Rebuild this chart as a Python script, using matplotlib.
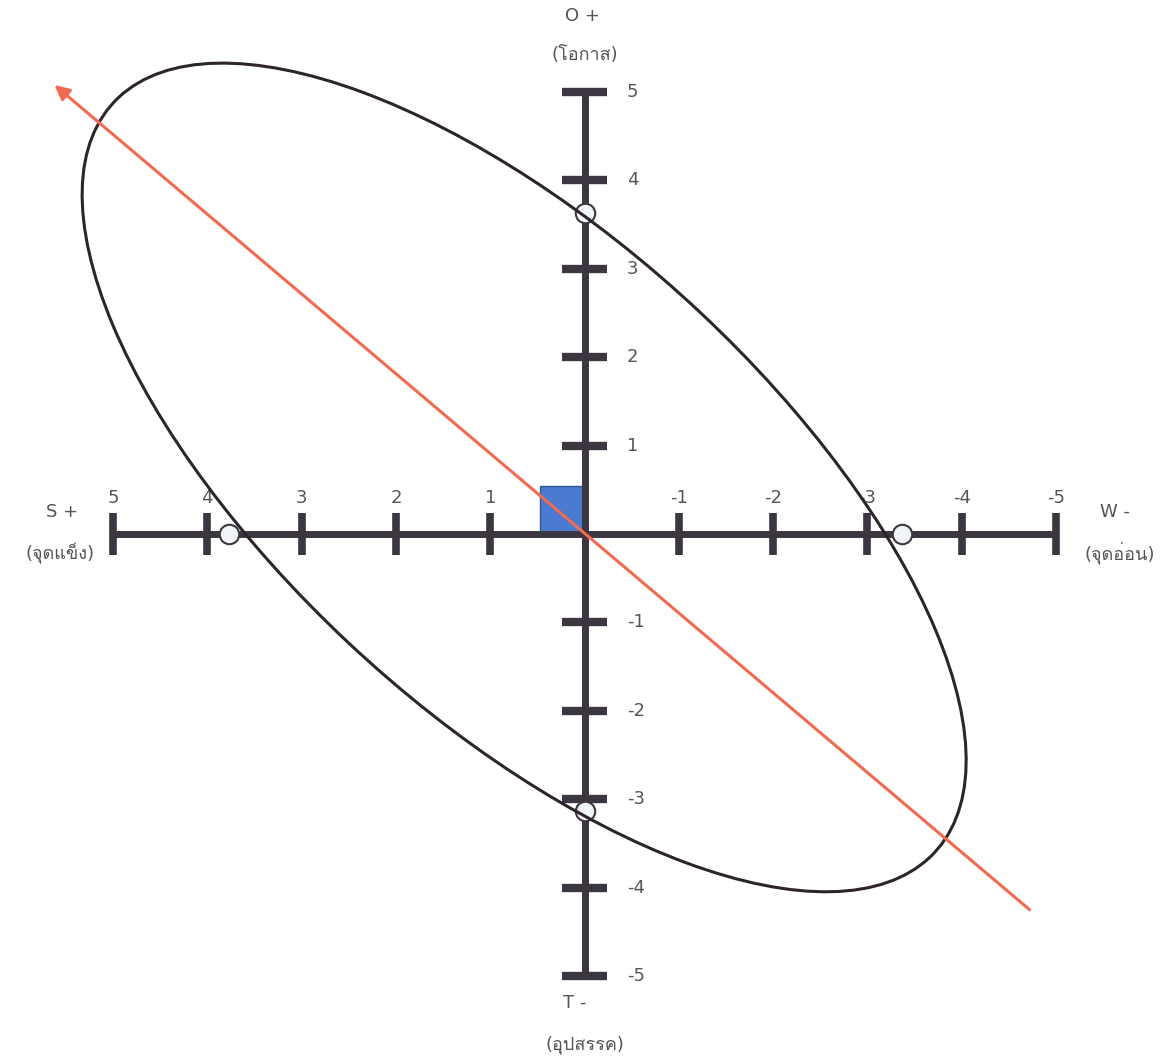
import matplotlib
matplotlib.use("Agg")
import matplotlib.pyplot as plt
from matplotlib import font_manager
from matplotlib.ft2font import FT2Font
from matplotlib.patches import Ellipse, Rectangle

# axis ticks (x axis reversed: S on the left, W on the right)
x_ticks = [5, 4, 3, 2, 1, -1, -2, -3, -4, -5]
y_ticks = [5, 4, 3, 2, 1, -1, -2, -3, -4, -5]

# ellipse: centre, full width/height, rotation
ell_center = (0.64, 0.64)
ell_width = 12.16
ell_height = 5.28
ell_angle = 45

# points where the ellipse meets the axes
axis_points_x = [3.77, -3.37]
axis_points_y = [3.63, -3.13]

# strategy arrow
arrow_tail = (-4.72, -4.25)
arrow_tip = (5.62, 5.08)

# position square
square_xy = (0.0, 0.0)
square_w = 0.47
square_h = 0.54

labels = {
    "S": ("S +", "(จุดแข็ง)"),
    "W": ("W -", "(จุดอ่อน)"),
    "O": ("O +", "(โอกาส)"),
    "T": ("T -", "(อุปสรรค)"),
}


def find_thai_font():
    # first installed font that has Thai glyphs
    for f in font_manager.fontManager.ttflist:
        try:
            if 0x0E01 in FT2Font(f.fname).get_charmap():
                return f.name
        except Exception:
            pass
    return None


thai = find_thai_font()
families = ["DejaVu Sans"] + ([thai] if thai else [])
plt.rcParams["font.family"] = families

axis_col = "#3b3640"
text_col = "#555555"

fig = plt.figure(figsize=(11.69, 10.57), dpi=100)
ax = fig.add_axes([0, 0, 1, 1])
ax.set_xlim(6.198, -6.198)
ax.set_ylim(-5.916, 6.041)
ax.axis("off")

ax.add_patch(Rectangle(square_xy, square_w, square_h, facecolor="#4a7bd0",
                       edgecolor="#2f5597", lw=1, zorder=1))

# main axes
ax.plot([5, -5], [0, 0], color=axis_col, lw=5, solid_capstyle="butt", zorder=2)
ax.plot([0, 0], [5, -5], color=axis_col, lw=5, solid_capstyle="butt", zorder=2)
for t in x_ticks:
    ax.plot([t, t], [-0.24, 0.24], color=axis_col, lw=5.5, solid_capstyle="butt", zorder=2)
    ax.text(t, 0.35, str(t), ha="center", va="baseline", fontsize=13, color=text_col)
for t in y_ticks:
    ax.plot([0.24, -0.24], [t, t], color=axis_col, lw=6, solid_capstyle="butt", zorder=2)
    ax.text(-0.45, t, str(t), ha="left", va="center", fontsize=13, color=text_col)

ax.add_patch(Ellipse(ell_center, ell_width, ell_height, angle=ell_angle,
                     fill=False, edgecolor="#2e2528", lw=2.2, zorder=4))

ax.plot(axis_points_x, [0] * len(axis_points_x), "o", ms=14, mfc="#f2f5f7",
        mec="#3b3640", mew=1.5, zorder=3)
ax.plot([0] * len(axis_points_y), axis_points_y, "o", ms=14, mfc="#f2f5f7",
        mec="#3b3640", mew=1.5, zorder=3)

ax.annotate("", xy=arrow_tip, xytext=arrow_tail,
            arrowprops=dict(arrowstyle="-|>", color="#f26a50", lw=2.2,
                            mutation_scale=22, shrinkA=0, shrinkB=0), zorder=5)

kw = dict(ha="center", va="center", fontsize=13, color=text_col)
ax.text(5.54, 0.25, labels["S"][0], **kw)
ax.text(5.56, -0.215, labels["S"][1], **kw)
ax.text(-5.63, 0.25, labels["W"][0], **kw)
ax.text(-5.68, -0.215, labels["W"][1], **kw)
ax.text(0.02, 5.86, labels["O"][0], **kw)
ax.text(0.0, 5.42, labels["O"][1], **kw)
ax.text(0.10, -5.31, labels["T"][0], **kw)
ax.text(0.0, -5.78, labels["T"][1], **kw)

fig.savefig("out.png", dpi=100)
